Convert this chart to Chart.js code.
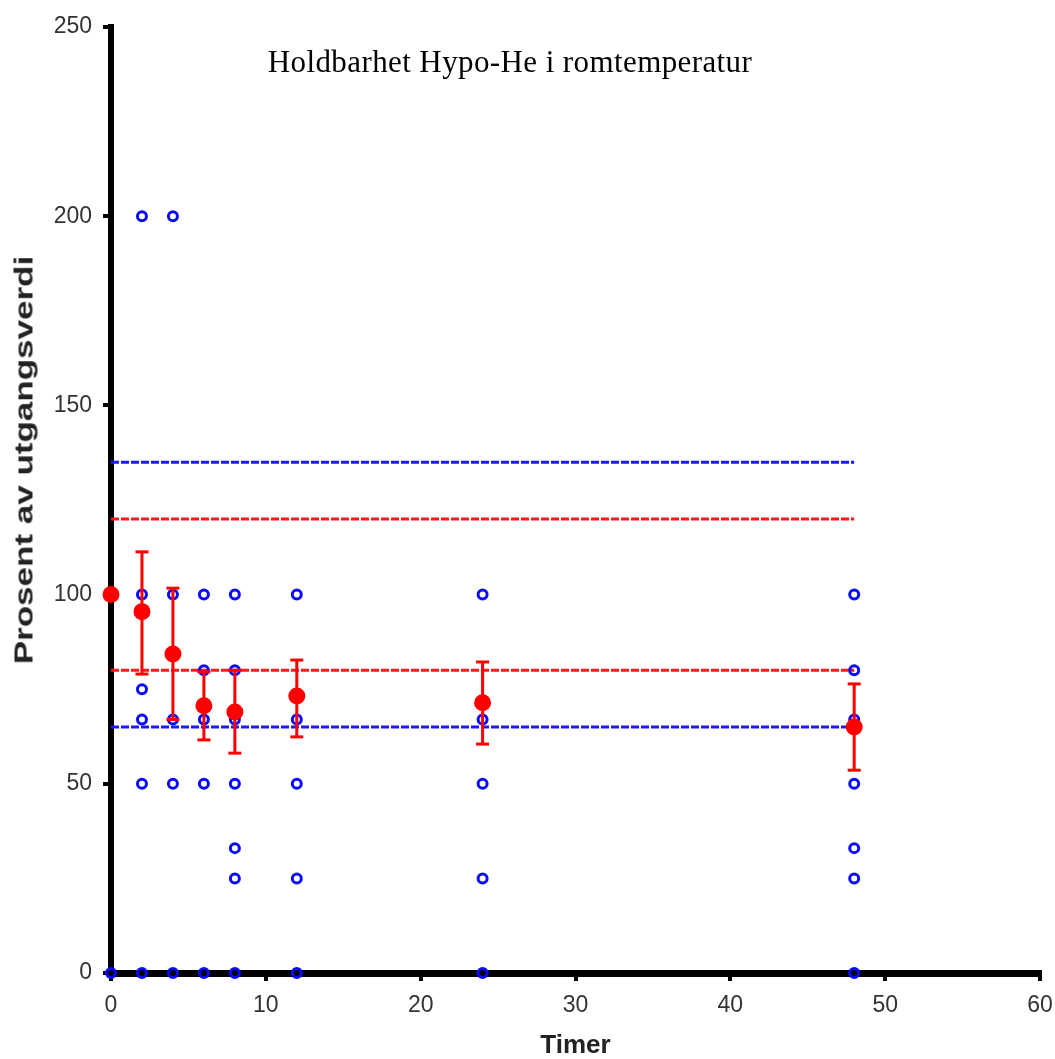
<!DOCTYPE html>
<html>
<head>
<meta charset="utf-8">
<title>Holdbarhet Hypo-He i romtemperatur</title>
<script src="https://cdn.jsdelivr.net/npm/chart.js@4/dist/chart.umd.min.js"></script>
<style>
  html, body { margin: 0; padding: 0; background: #fff; }
  #wrap { position: relative; width: 1055px; height: 1059px; }
  #chartTitle {
    position: absolute; left: 0; top: 46px; width: 1020px;
    text-align: center; font: 31px/31px "Liberation Serif", "Times New Roman", serif;
    letter-spacing: 0.4px; color: #000;
  }
  #yTitle {
    position: absolute; left: 24px; top: 460px; width: 0; height: 0;
  }
  #yTitle span {
    position: absolute; left: 0; top: 0; white-space: nowrap;
    font: bold 25px/25px "Liberation Sans", Arial, sans-serif; color: #222;
    transform: translate(-50%, -50%) rotate(-90deg) scaleX(1.4);
  }
</style>
</head>
<body>
<div id="wrap">
  <canvas id="stabilityChart" width="1055" height="1059"></canvas>
  <div id="chartTitle">Holdbarhet Hypo-He i romtemperatur</div>
  <div id="yTitle"><span>Prosent av utgangsverdi</span></div>
</div>
<script>
// ─── Data ───

var hours = [0, 2, 4, 6, 8, 12, 24, 48];
var meanValues = [100, 95.5, 84.3, 70.6, 69, 73.2, 71.4, 65];
var errLow = [100, 79, 67, 61.6, 58.1, 62.4, 60.5, 53.6];
var errHigh = [100, 111.3, 101.7, 79.6, 80, 82.7, 82.2, 76.4];

// individual samples (percent of starting value) per time point
var samplesH0 = [100, 0];
var samplesH2 = [200, 100, 75, 67, 50, 0];
var samplesH4 = [200, 100, 67, 50, 0];
var samplesH6 = [100, 80, 67, 50, 0];
var samplesH8 = [100, 80, 67, 50, 33, 25, 0];
var samplesH12 = [100, 67, 50, 25, 0];
var samplesH24 = [100, 67, 50, 25, 0];
var samplesH48 = [100, 80, 67, 50, 33, 25, 0];

var blueLimits = [135, 65];
var redLimits = [120, 80];
var limitStart = 0;
var limitEnd = 48;

var xTicks = [0, 10, 20, 30, 40, 50, 60];
var yTicks = [0, 50, 100, 150, 200, 250];

// ─── Build datasets ───

var sampleSets = [samplesH0, samplesH2, samplesH4, samplesH6, samplesH8, samplesH12, samplesH24, samplesH48];
var samplePoints = [];
sampleSets.forEach(function (vals, i) {
  vals.forEach(function (v) {
    samplePoints.push({ x: hours[i], y: v });
  });
});

var meanPoints = hours.map(function (h, i) { return { x: h, y: meanValues[i] }; });

// error bars as one line with gaps between the segments
var errorPoints = [];
hours.forEach(function (h, i) {
  if (errHigh[i] === errLow[i]) return;
  errorPoints.push({ x: h, y: errLow[i] });
  errorPoints.push({ x: h, y: errHigh[i] });
  errorPoints.push({ x: h, y: null });
});

function limitLine(value, color) {
  return {
    type: "line",
    data: [{ x: limitStart, y: value }, { x: limitEnd, y: value }],
    borderColor: color,
    borderWidth: 3,
    borderDash: [8, 2],
    pointRadius: 0,
    fill: false,
    clip: false,
    order: 5,
  };
}

var datasets = [];
blueLimits.forEach(function (v) { datasets.push(limitLine(v, "#1a1aff")); });
redLimits.forEach(function (v) { datasets.push(limitLine(v, "#ff1a1a")); });

datasets.push({
  type: "scatter",
  data: samplePoints,
  borderColor: "#0a0aff",
  backgroundColor: "rgba(0,0,0,0)",
  borderWidth: 3,
  pointRadius: 4.5,
  clip: false,
  order: 3,
});

datasets.push({
  type: "line",
  data: errorPoints,
  borderColor: "#ff0000",
  borderWidth: 3,
  spanGaps: false,
  pointStyle: "line",
  pointRadius: 6.5,
  pointBorderWidth: 3,
  pointBorderColor: "#ff0000",
  fill: false,
  clip: false,
  order: 2,
});

datasets.push({
  type: "scatter",
  data: meanPoints,
  backgroundColor: "#ff0000",
  borderColor: "#ff0000",
  pointRadius: 8.5,
  borderWidth: 0,
  clip: false,
  order: 1,
});

// ─── Chart ───

var tickFont = { family: "'Liberation Sans', Arial, sans-serif", size: 23 };

new Chart(document.getElementById("stabilityChart"), {
  type: "scatter",
  data: { datasets: datasets },
  options: {
    responsive: false,
    animation: false,
    layout: { padding: { top: 27, right: 15, left: 0, bottom: 0 } },
    plugins: {
      legend: { display: false },
      tooltip: { enabled: false },
      title: { display: false },
    },
    scales: {
      x: {
        type: "linear",
        min: 0,
        max: 60,
        afterBuildTicks: function (scale) {
          scale.ticks = xTicks.map(function (v) { return { value: v }; });
        },
        afterFit: function (scale) {
          scale.height = 86;
          scale.paddingLeft = 0;
          scale.paddingRight = 0;
        },
        border: { color: "#000", width: 7 },
        grid: { drawOnChartArea: false, drawTicks: true, tickLength: 8, color: "#000", lineWidth: 4 },
        ticks: { font: tickFont, color: "#333", padding: 11, maxRotation: 0 },
        title: {
          display: true,
          text: "Timer",
          font: { family: "'Liberation Sans', Arial, sans-serif", size: 26, weight: "bold", lineHeight: 1 },
          color: "#222",
          padding: { top: 0, bottom: 0 },
        },
      },
      y: {
        type: "linear",
        min: 0,
        max: 250,
        afterBuildTicks: function (scale) {
          scale.ticks = yTicks.map(function (v) { return { value: v }; });
        },
        afterFit: function (scale) {
          scale.width = 111;
          scale.paddingTop = 0;
          scale.paddingBottom = 0;
        },
        border: { color: "#000", width: 6 },
        grid: { drawOnChartArea: false, drawTicks: true, tickLength: 8, color: "#000", lineWidth: 4 },
        ticks: { font: tickFont, color: "#333", padding: 11 },
      },
    },
  },
});
</script>
</body>
</html>
